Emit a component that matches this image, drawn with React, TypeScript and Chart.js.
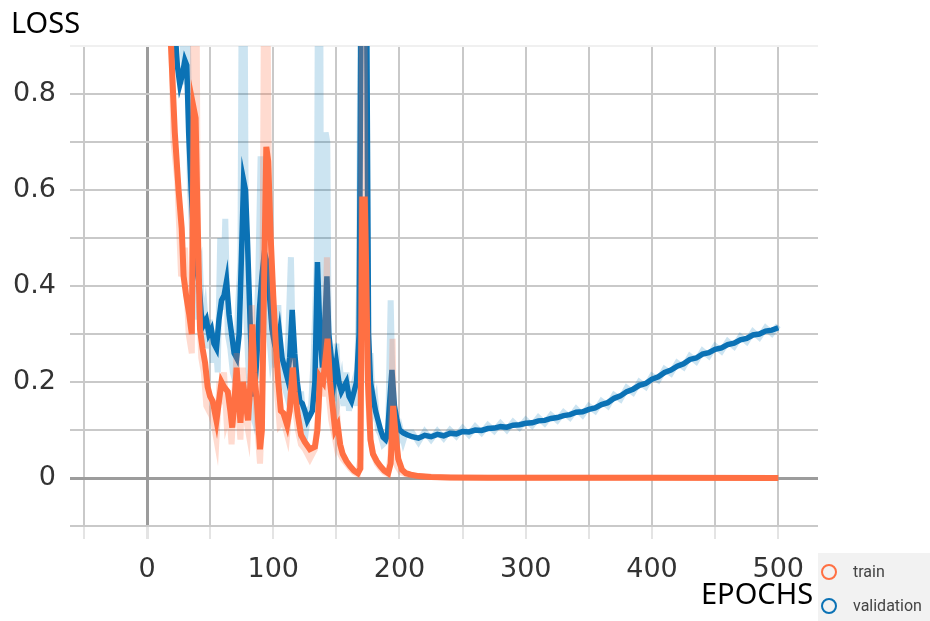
import React, { useEffect, useRef } from "react";
import { Chart, registerables } from "chart.js";

Chart.register(...registerables);

// ---- axes ----
const X_TICKS = [-50, 0, 50, 100, 150, 200, 250, 300, 350, 400, 450, 500];
const X_LABELS = ["", "0", "", "100", "", "200", "", "300", "", "400", "", "500"];
const Y_TICKS = [-0.1, 0, 0.1, 0.2, 0.3, 0.4, 0.5, 0.6, 0.7, 0.8, 0.9];
const Y_LABELS = ["", "0", "", "0.2", "", "0.4", "", "0.6", "", "0.8", ""];

// ---- train (smoothed) ----
const TRAIN_X = [16, 19, 22, 25, 27.5, 29, 31, 33.5, 35.5, 37, 38.5, 40, 42, 44, 46, 48, 50, 52, 55, 57, 59, 61, 64, 66, 67.5, 69, 71, 72.5, 74, 76, 78, 80, 82, 83.5, 85, 87, 89.5, 91, 93, 94.5, 96, 98, 100, 102, 104, 106, 108, 111, 113, 115.5, 117, 119.5, 122, 125, 129, 133, 135, 137, 139.5, 141, 143, 145, 147, 149, 151, 153, 155, 158, 161, 164, 167, 169, 170.5, 172.5, 173.5, 175, 177, 179, 182, 185, 188, 191, 193, 195, 197, 199, 202, 205, 209, 215, 225, 240, 270, 320, 400, 500];
const TRAIN_Y = [1.15, 0.9, 0.72, 0.6, 0.52, 0.42, 0.38, 0.34, 0.3, 0.77, 0.75, 0.55, 0.31, 0.27, 0.24, 0.19, 0.17, 0.16, 0.12, 0.16, 0.2, 0.19, 0.18, 0.14, 0.105, 0.15, 0.23, 0.17, 0.115, 0.2, 0.16, 0.12, 0.2, 0.32, 0.22, 0.16, 0.06, 0.1, 0.45, 0.69, 0.66, 0.5, 0.38, 0.28, 0.2, 0.14, 0.135, 0.11, 0.14, 0.23, 0.18, 0.13, 0.09, 0.075, 0.06, 0.065, 0.1, 0.21, 0.2, 0.24, 0.29, 0.2, 0.15, 0.1, 0.11, 0.07, 0.05, 0.035, 0.024, 0.015, 0.01, 0.02, 0.58, 0.58, 0.45, 0.2, 0.08, 0.05, 0.035, 0.024, 0.015, 0.01, 0.03, 0.15, 0.09, 0.04, 0.017, 0.01, 0.007, 0.004, 0.002, 0.001, 0.0006, 0.0004, 0.0003, 0.0002];

// ---- train (raw) ----
const TRAIN_RAW_X = [15, 19, 21, 24, 27, 30, 33, 35.5, 37, 39, 40.5, 43, 45, 47, 49, 51, 53, 55, 57, 59, 61, 63, 65, 67, 69, 71, 72.5, 74, 76, 78, 80, 82, 83, 85, 87, 89.5, 91, 93, 95, 97, 99, 101, 103, 105, 108, 111, 113, 115.5, 117, 119.5, 122, 125, 129, 133, 136, 137.5, 139.5, 141, 142.5, 144, 146, 149, 151, 153, 155, 158, 161, 164, 167, 169, 170.5, 172, 173.5, 175.5, 177, 179, 182, 185, 188, 191, 193, 194.5, 196, 198, 201, 205, 210, 220, 240, 300, 500];
const TRAIN_RAW_Y = [1.3, 0.95, 0.7, 0.62, 0.42, 0.48, 0.3, 0.26, 1.2, 1.1, 0.4, 0.25, 0.22, 0.15, 0.14, 0.13, 0.11, 0.08, 0.18, 0.17, 0.22, 0.12, 0.14, 0.07, 0.17, 0.26, 0.13, 0.08, 0.23, 0.13, 0.1, 0.22, 0.36, 0.2, 0.12, 0.03, 0.12, 1.2, 1.1, 0.5, 0.33, 0.25, 0.18, 0.11, 0.12, 0.09, 0.15, 0.25, 0.15, 0.1, 0.07, 0.06, 0.04, 0.06, 0.15, 0.23, 0.17, 0.3, 0.46, 0.17, 0.12, 0.08, 0.12, 0.05, 0.04, 0.03, 0.02, 0.012, 0.008, 0.04, 1.2, 1.1, 0.3, 0.15, 0.08, 0.05, 0.03, 0.02, 0.012, 0.008, 0.05, 0.29, 0.06, 0.025, 0.012, 0.008, 0.005, 0.003, 0.001, 0.0005, 0.0002];

// ---- validation (smoothed) ----
const VAL_X = [18, 21, 24, 26, 28, 30, 31.5, 33, 35, 37, 39, 41, 43, 45, 47, 49, 51, 53, 55, 57, 59, 61, 63, 65, 67, 69, 71, 73, 75, 76.5, 78, 79.5, 81, 83, 85, 87, 89, 91, 93, 95, 97, 99, 101, 103, 105, 107, 109, 111, 113, 115, 117, 119, 121, 123, 125, 127, 129, 131, 133, 135, 137, 139, 141, 142.5, 144, 146, 148, 150, 152, 154, 156, 158, 160, 162, 164, 166, 168, 170, 173.5, 175.5, 177, 179, 181, 183, 185, 187, 189, 190.5, 192, 194, 196, 198, 200, 203, 206, 210, 215, 220, 225, 230, 235, 240, 245, 250, 255, 260, 265, 270, 275, 280, 285, 290, 295, 300, 305, 310, 315, 320, 325, 330, 335, 340, 345, 350, 355, 360, 365, 370, 375, 380, 385, 390, 395, 400, 405, 410, 415, 420, 425, 430, 435, 440, 445, 450, 455, 460, 465, 470, 475, 480, 485, 490, 495, 500];
const VAL_Y = [1.3, 0.98, 0.86, 0.82, 0.84, 0.87, 0.86, 0.72, 0.6, 0.5, 0.44, 0.41, 0.34, 0.32, 0.33, 0.3, 0.31, 0.28, 0.27, 0.33, 0.37, 0.38, 0.41, 0.34, 0.3, 0.26, 0.25, 0.3, 0.48, 0.62, 0.6, 0.5, 0.38, 0.22, 0.17, 0.25, 0.35, 0.42, 0.47, 0.45, 0.38, 0.31, 0.28, 0.26, 0.3, 0.25, 0.23, 0.21, 0.25, 0.35, 0.26, 0.2, 0.16, 0.155, 0.14, 0.12, 0.13, 0.14, 0.2, 0.45, 0.3, 0.23, 0.33, 0.42, 0.3, 0.25, 0.2, 0.24, 0.2, 0.18, 0.19, 0.2, 0.17, 0.16, 0.18, 0.2, 0.3, 1.2, 1.2, 0.3, 0.2, 0.17, 0.14, 0.12, 0.1, 0.085, 0.08, 0.09, 0.15, 0.225, 0.15, 0.12, 0.1, 0.094, 0.09, 0.086, 0.083, 0.089, 0.086, 0.091, 0.088, 0.093, 0.092, 0.097, 0.096, 0.1, 0.099, 0.103, 0.104, 0.107, 0.106, 0.11, 0.111, 0.114, 0.115, 0.119, 0.12, 0.124, 0.126, 0.13, 0.132, 0.137, 0.138, 0.143, 0.146, 0.153, 0.157, 0.166, 0.171, 0.18, 0.185, 0.193, 0.197, 0.206, 0.211, 0.22, 0.225, 0.233, 0.238, 0.247, 0.25, 0.258, 0.261, 0.268, 0.271, 0.278, 0.281, 0.288, 0.291, 0.298, 0.3, 0.306, 0.308, 0.313];

// ---- validation (raw) ----
const VAL_RAW_X = [17, 21, 24, 27, 30, 32, 34, 36, 38, 40, 42, 44, 46, 48, 50, 52, 54, 56, 58, 60, 62, 64, 66, 68, 70, 72, 74, 75.5, 77, 78.5, 80, 82, 84, 86, 88, 90, 92, 94, 96, 98, 100, 102, 104, 106, 108, 110, 112, 114, 116, 118, 120, 122, 124, 126, 128, 130, 132, 134.5, 135.8, 137, 138, 140, 141.5, 142.8, 144, 146, 148, 150, 152, 154, 156, 158, 160, 162, 164, 166, 168, 169.5, 173, 175, 177, 179, 181, 183, 185, 187, 189, 191, 193, 195, 197, 199, 201, 203, 205, 210, 215, 220, 225, 230, 235, 240, 245, 250, 255, 260, 265, 270, 275, 280, 285, 290, 295, 300, 305, 310, 315, 320, 325, 330, 335, 340, 345, 350, 355, 360, 365, 370, 375, 380, 385, 390, 395, 400, 405, 410, 415, 420, 425, 430, 435, 440, 445, 450, 455, 460, 465, 470, 475, 480, 485, 490, 495, 500];
const VAL_RAW_Y = [1.4, 1.1, 1.0, 0.95, 0.82, 1.0, 0.6, 0.5, 0.33, 0.42, 0.44, 0.3, 0.34, 0.27, 0.33, 0.24, 0.3, 0.22, 0.5, 0.35, 0.54, 0.3, 0.27, 0.22, 0.2, 0.35, 0.45, 1.3, 1.2, 0.35, 0.25, 0.15, 0.13, 0.28, 0.4, 0.67, 0.4, 0.45, 0.32, 0.26, 0.3, 0.23, 0.36, 0.22, 0.2, 0.18, 0.3, 0.46, 0.2, 0.17, 0.13, 0.18, 0.12, 0.1, 0.14, 0.15, 0.25, 0.45, 1.3, 1.3, 0.2, 0.3, 0.72, 0.7, 0.22, 0.2, 0.16, 0.28, 0.17, 0.2, 0.15, 0.22, 0.14, 0.18, 0.2, 0.15, 0.4, 1.3, 1.3, 0.2, 0.26, 0.14, 0.16, 0.1, 0.09, 0.07, 0.075, 0.1, 0.37, 0.13, 0.1, 0.08, 0.1, 0.078, 0.095, 0.095, 0.075, 0.097, 0.08, 0.098, 0.083, 0.1, 0.087, 0.104, 0.09, 0.107, 0.094, 0.11, 0.098, 0.114, 0.1, 0.117, 0.105, 0.121, 0.109, 0.126, 0.114, 0.131, 0.12, 0.137, 0.126, 0.144, 0.131, 0.15, 0.14, 0.16, 0.15, 0.173, 0.164, 0.188, 0.178, 0.2, 0.19, 0.213, 0.204, 0.227, 0.218, 0.24, 0.231, 0.254, 0.243, 0.265, 0.254, 0.275, 0.264, 0.285, 0.274, 0.295, 0.284, 0.305, 0.293, 0.313, 0.301, 0.318];

const ORANGE = "#ff7043";
const ORANGE_RAW = "rgba(255,112,67,0.25)";
const BLUE = "#0b72b5";
const BLUE_RAW = "rgba(0,119,187,0.2)";

function zip(xs: number[], ys: number[]) {
  return xs.map((x, i) => ({ x, y: ys[i] }));
}

const TICK_FONT = { family: "'DejaVu Sans', sans-serif", size: 27 };

export default function App() {
  const ref = useRef<HTMLCanvasElement | null>(null);

  useEffect(() => {
    if (!ref.current) return;
    const lineBase = {
      pointRadius: 0,
      pointHoverRadius: 0,
      tension: 0,
      borderWidth: 6,
      fill: false,
      clip: 0,
    };
    const chart = new Chart(ref.current, {
      type: "line",
      data: {
        datasets: [
          { ...lineBase, label: "train", data: zip(TRAIN_X, TRAIN_Y), borderColor: ORANGE, borderWidth: 6 },
          { ...lineBase, label: "train raw", data: zip(TRAIN_RAW_X, TRAIN_RAW_Y), borderColor: ORANGE_RAW },
          { ...lineBase, label: "validation", data: zip(VAL_X, VAL_Y), borderColor: BLUE, borderWidth: 5.5 },
          { ...lineBase, label: "validation raw", data: zip(VAL_RAW_X, VAL_RAW_Y), borderColor: BLUE_RAW },
        ],
      },
      options: {
        responsive: false,
        animation: false,
        events: [],
        layout: { padding: { top: 46, right: 112, left: 0, bottom: 0 } },
        plugins: { legend: { display: false }, tooltip: { enabled: false } },
        scales: {
          x: {
            type: "linear",
            min: -61,
            max: 531.5,
            afterBuildTicks: (s: any) => {
              s.ticks = X_TICKS.map((v) => ({ value: v }));
            },
            afterFit: (s: any) => {
              s.height = 95;
            },
            ticks: {
              autoSkip: false,
              maxRotation: 0,
              padding: 15,
              color: "#333",
              font: TICK_FONT,
              callback: (_v: any, i: number) => X_LABELS[i],
            },
            grid: {
              drawTicks: true,
              tickLength: 13,
              tickColor: "#e4e4e4",
              color: (c: any) => (c.tick && c.tick.value === 0 ? "#9c9c9c" : "#c9c9c9"),
              lineWidth: (c: any) => (c.tick && c.tick.value === 0 ? 3 : 2),
            },
            border: { display: false },
          },
          y: {
            type: "linear",
            min: -0.1,
            max: 0.9,
            afterBuildTicks: (s: any) => {
              s.ticks = Y_TICKS.map((v) => ({ value: v }));
            },
            afterFit: (s: any) => {
              s.width = 70;
            },
            ticks: {
              autoSkip: false,
              padding: 14,
              color: "#333",
              font: TICK_FONT,
              callback: (_v: any, i: number) => Y_LABELS[i],
            },
            grid: {
              drawTicks: false,
              color: (c: any) => {
                const v = c.tick ? c.tick.value : 1;
                if (Math.abs(v) < 1e-9) return "#9c9c9c";
                if (Math.abs(v - 0.9) < 1e-9) return "#f0f0f0";
                return "#c9c9c9";
              },
              lineWidth: (c: any) => (c.tick && Math.abs(c.tick.value) < 1e-9 ? 3 : 2),
            },
            border: { display: false },
          },
        },
      },
    } as any);
    return () => chart.destroy();
  }, []);

  const label: React.CSSProperties = {
    position: "absolute",
    fontFamily: "'Noto Sans', sans-serif",
    fontSize: 29,
    lineHeight: "29px",
    color: "#000",
    whiteSpace: "nowrap",
  };
  const legendText: React.CSSProperties = {
    position: "absolute",
    left: 35,
    fontFamily: "Roboto, sans-serif",
    fontSize: 16,
    lineHeight: "20px",
    color: "#444",
  };
  const circle = (color: string, top: number): React.CSSProperties => ({
    position: "absolute",
    left: 3,
    top,
    width: 16,
    height: 16,
    boxSizing: "border-box",
    border: `2px solid ${color}`,
    borderRadius: "50%",
  });

  return (
    <div style={{ position: "absolute", left: 0, top: 0, width: 930, height: 621, background: "#fff" }}>
      <canvas ref={ref} width={930} height={621} style={{ position: "absolute", left: 0, top: 0 }} />
      <div style={{ ...label, left: 11, top: 7 }}>LOSS</div>
      <div style={{ ...label, left: 701, top: 578 }}>EPOCHS</div>
      <div style={{ position: "absolute", left: 818, top: 553, width: 112, height: 68, background: "#f2f2f2" }}>
        <div style={circle(ORANGE, 11)} />
        <div style={{ ...legendText, top: 9 }}>train</div>
        <div style={circle(BLUE, 45)} />
        <div style={{ ...legendText, top: 43 }}>validation</div>
      </div>
    </div>
  );
}
